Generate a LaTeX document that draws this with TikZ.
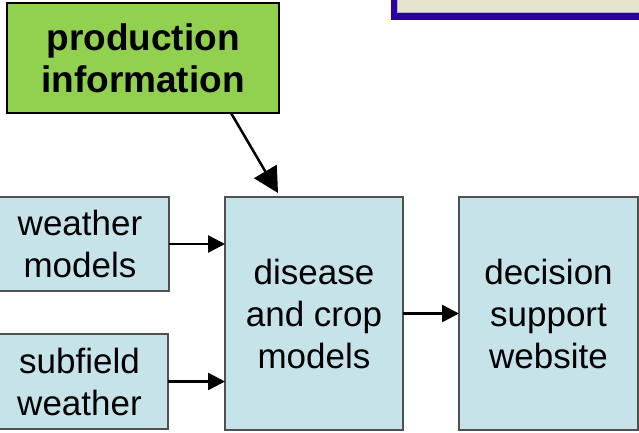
\documentclass[tikz,border=0pt]{standalone}
\usepackage{fontspec}
\setmainfont{Liberation Sans}
\usetikzlibrary{arrows.meta}
\definecolor{boxblue}{RGB}{197,227,233}
\definecolor{boxedge}{RGB}{80,80,80}
\definecolor{prodgreen}{RGB}{146,208,80}
\definecolor{bannerblue}{RGB}{42,0,160}
\definecolor{bannerbeige}{RGB}{228,228,204}
\definecolor{bannerline}{RGB}{175,175,195}
\begin{document}
\begin{tikzpicture}[x=1pt,y=-1pt,
  bluebox/.style={draw=boxedge,line width=1.5pt,fill=boxblue,inner sep=0pt,outer sep=0pt,
    align=center,font=\fontsize{35}{42}\selectfont},
  greenbox/.style={draw=black,line width=2.5pt,fill=prodgreen,inner sep=0pt,outer sep=0pt,
    align=center,font=\fontsize{37}{42}\selectfont\bfseries},
  flow/.style={line width=2.5pt,-{Triangle[length=17pt,width=17pt]}},
  bigflow/.style={line width=2.5pt,-{Triangle[length=25pt,width=26pt]}}]
\useasboundingbox (0,0) rectangle (639,432);
% banner at top right
\fill[bannerblue] (391,-10) rectangle (650,19.5);
\fill[bannerbeige] (397.5,-10) rectangle (650,12);
\draw[bannerline,line width=1pt] (397.5,-10) -- (397.5,12) -- (650,12);
% nodes
\node[greenbox,minimum width=272pt,minimum height=110pt] (prod) at (143,58) {production\\information};
\node[bluebox,minimum width=178pt,minimum height=94pt] (wm) at (80,244) {weather\\models};
\node[bluebox,minimum width=177pt,minimum height=95pt] (sw) at (79.5,381.5) {subfield\\weather};
\node[bluebox,minimum width=178pt,minimum height=233pt] (dc) at (314,313.5) {disease\\and crop\\models};
\node[bluebox,minimum width=179pt,minimum height=233pt] (ds) at (548.5,313.5) {decision\\support\\website};
% connectors
\draw[flow] (wm.east) -- (wm.east -| dc.west);
\draw[flow] (sw.east) -- (sw.east -| dc.west);
\draw[flow] (dc.east) -- (dc.east -| ds.west);
\draw[bigflow] ([xshift=88pt]prod.south) -- ([xshift=-36pt,yshift=4pt]dc.north);
\end{tikzpicture}
\end{document}
